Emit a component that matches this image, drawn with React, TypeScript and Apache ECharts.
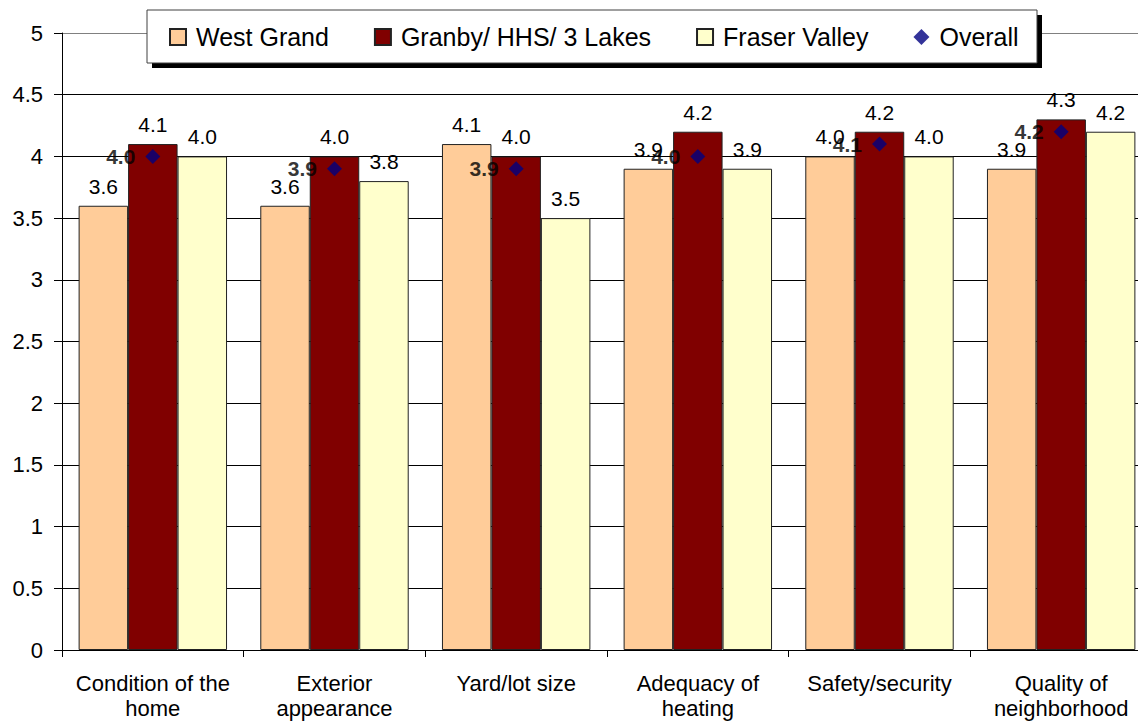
import React, { useEffect, useRef } from "react";
import * as echarts from "echarts";

const categories = [
  "Condition of the\nhome",
  "Exterior\nappearance",
  "Yard/lot size",
  "Adequacy of\nheating",
  "Safety/security",
  "Quality of\nneighborhood",
];
const westGrand = [3.6, 3.6, 4.1, 3.9, 4.0, 3.9];
const granby = [4.1, 4.0, 4.0, 4.2, 4.2, 4.3];
const fraserValley = [4.0, 3.8, 3.5, 3.9, 4.0, 4.2];
const overall = [4.0, 3.9, 3.9, 4.0, 4.1, 4.2];
const seriesNames = ["West Grand", "Granby/ HHS/ 3 Lakes", "Fraser Valley", "Overall"];

const FONT = '"Liberation Sans", Arial, sans-serif';

export default function App() {
  const ref = useRef<HTMLDivElement>(null);
  useEffect(() => {
    if (!ref.current) return;
    const chart = echarts.init(ref.current, undefined, { renderer: "svg" });
    const barLabel = {
      show: true,
      position: "top",
      distance: 9,
      fontSize: 21,
      fontFamily: FONT,
      color: "#000",
      formatter: (p: any) => Number(p.value).toFixed(1),
    };
    const barItem = (color: string) => ({ color, borderColor: "#222", borderWidth: 1 });
    const splitColors = Array.from({ length: 11 }, (_, i) => (i === 10 ? "#808080" : "#000"));
    chart.setOption({
      animation: false,
      backgroundColor: "#fff",
      textStyle: { fontFamily: FONT },
      grid: {
        left: 62,
        top: 33,
        width: 1090,
        height: 617,
        containLabel: false,
        outerBoundsMode: "none",
      },
      graphic: [
        { type: "rect", z: 5, shape: { x: 152, y: 15, width: 890, height: 53 }, style: { fill: "#000" } },
        {
          type: "rect",
          z: 5,
          shape: { x: 147, y: 10, width: 890, height: 53 },
          style: { fill: "#fff", stroke: "#404040", lineWidth: 1 },
        },
      ],
      legend: {
        z: 6,
        left: 169,
        top: 24,
        padding: 0,
        itemGap: 45,
        itemWidth: 16,
        itemHeight: 16,
        data: [
          { name: seriesNames[0], icon: "rect" },
          { name: seriesNames[1], icon: "rect" },
          { name: seriesNames[2], icon: "rect" },
          { name: seriesNames[3], icon: "diamond" },
        ],
        textStyle: { fontSize: 25, fontFamily: FONT, color: "#000", lineHeight: 26, padding: [0, 0, 0, 5] },
      },
      xAxis: {
        type: "category",
        data: categories,
        axisLine: { lineStyle: { color: "#000", width: 1 } },
        axisTick: { show: true, length: 7, lineStyle: { color: "#000" } },
        axisLabel: {
          interval: 0,
          fontSize: 22,
          lineHeight: 25,
          margin: 21,
          color: "#000",
          fontFamily: FONT,
        },
      },
      yAxis: {
        type: "value",
        min: 0,
        max: 5,
        interval: 0.5,
        axisLine: { show: true, lineStyle: { color: "#000", width: 1 } },
        axisTick: { show: true, length: 8, lineStyle: { color: "#000" } },
        axisLabel: { fontSize: 22, margin: 19, color: "#000", fontFamily: FONT },
        splitLine: { show: true, lineStyle: { color: splitColors, width: 1 } },
      },
      series: [
        {
          name: seriesNames[0],
          type: "bar",
          data: westGrand,
          barGap: "0%",
          barCategoryGap: "18.3%",
          itemStyle: barItem("#FFCC99"),
          label: barLabel,
        },
        {
          name: seriesNames[1],
          type: "bar",
          data: granby,
          barGap: "0%",
          barCategoryGap: "18.3%",
          itemStyle: barItem("#800000"),
          label: barLabel,
        },
        {
          name: seriesNames[2],
          type: "bar",
          data: fraserValley,
          barGap: "0%",
          barCategoryGap: "18.3%",
          itemStyle: barItem("#FFFFCC"),
          label: barLabel,
        },
        {
          name: seriesNames[3],
          type: "scatter",
          data: overall,
          symbol: "diamond",
          symbolSize: 15,
          z: 5,
          itemStyle: { color: "#000080" },
          label: {
            show: true,
            position: "left",
            distance: 10,
            fontSize: 21,
            fontWeight: "bold",
            fontFamily: FONT,
            color: "#000",
            formatter: (p: any) => Number(p.value).toFixed(1),
          },
        },
      ],
    });
    return () => chart.dispose();
  }, []);
  return (
    <div
      ref={ref}
      style={{ position: "absolute", left: 0, top: 0, width: 1138, height: 723, background: "#fff" }}
    />
  );
}
